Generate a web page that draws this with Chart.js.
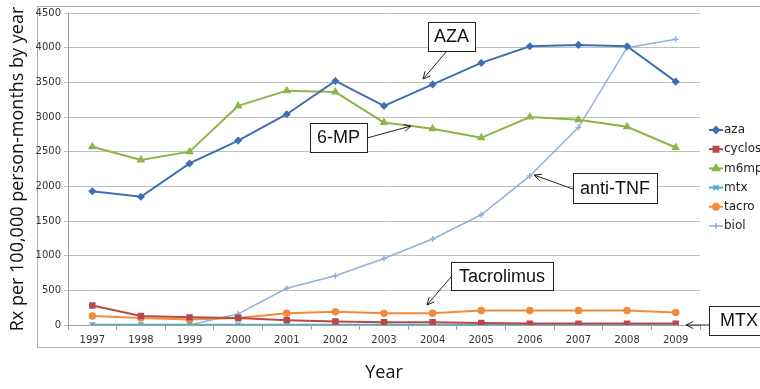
<!DOCTYPE html>
<html>
<head>
<meta charset="utf-8">
<script src="https://cdn.jsdelivr.net/npm/chart.js@4.4.1/dist/chart.umd.min.js"></script>
<style>
  html, body { margin: 0; padding: 0; background: #fff; }
  #wrap { width: 760px; height: 389px; }
</style>
</head>
<body>
<div id="wrap"><canvas id="chart" width="760" height="389"></canvas></div>
<script>
const years = ['1997', '1998', '1999', '2000', '2001', '2002', '2003', '2004', '2005', '2006', '2007', '2008', '2009'];

const aza = [1930, 1850, 2330, 2660, 3040, 3520, 3160, 3470, 3780, 4020, 4040, 4020, 3510];
const cyclosp = [280, 130, 110, 100, 70, 50, 40, 40, 30, 20, 20, 20, 20];
const m6mp = [2570, 2380, 2500, 3160, 3380, 3360, 2920, 2830, 2700, 3000, 2960, 2860, 2560];
const mtx = [5, 5, 5, 5, 5, 5, 5, 5, 5, 5, 5, 5, 5];
const tacro = [130, 100, 80, 100, 170, 190, 170, 170, 210, 210, 210, 210, 180];
const biol = [0, 0, 0, 160, 530, 710, 960, 1240, 1590, 2150, 2850, 4000, 4120];

const series = [
  { label: 'aza', data: aza, color: '#3f6fb3', marker: 'rectRot', radius: 3, width: 2 },
  { label: 'cyclosp', data: cyclosp, color: '#b8494a', marker: 'rect', radius: 3.5, width: 2 },
  { label: 'm6mp', data: m6mp, color: '#8db447', marker: 'triangle', radius: 3.5, width: 2 },
  { label: 'mtx', data: mtx, color: '#4ab0c8', marker: 'crossRot', radius: 3.5, width: 2 },
  { label: 'tacro', data: tacro, color: '#f08b3a', marker: 'circle', radius: 3, width: 2 },
  { label: 'biol', data: biol, color: '#92b0dc', marker: 'cross', radius: 3, width: 1.5 },
];

// text boxes with arrows, placed like the original figure
const notes = [
  { text: 'AZA', box: [428, 22, 47, 29], from: [447, 51], to: [423, 79] },
  { text: '6-MP', box: [310, 123, 57, 29], from: [367, 138], to: [411, 126] },
  { text: 'anti-TNF', box: [573, 173, 84, 30], from: [573, 189], to: [534, 175] },
  { text: 'Tacrolimus', box: [451, 262, 102, 28], from: [451, 277], to: [427, 305] },
  { text: 'MTX', box: [709, 306, 60, 29], from: [709, 325], to: [686, 325] },
];

const extras = {
  id: 'extras',
  beforeDraw(chart) {
    const ctx = chart.ctx;
    ctx.save();
    ctx.fillStyle = '#fff';
    ctx.fillRect(0, 0, chart.width, chart.height);
    ctx.strokeStyle = '#b0b0b0';
    ctx.lineWidth = 1;
    ctx.strokeRect(37.5, 6.5, 740, 341);
    ctx.restore();
  },
  afterDraw(chart) {
    const ctx = chart.ctx;
    ctx.save();
    // legend
    chart.data.datasets.forEach((ds, i) => {
      const y = 130 + i * 19.2;
      ctx.strokeStyle = ds.borderColor;
      ctx.fillStyle = ds.borderColor;
      ctx.lineWidth = ds.borderWidth;
      ctx.beginPath();
      ctx.moveTo(709, y);
      ctx.lineTo(723, y);
      ctx.stroke();
      Chart.helpers.drawPoint(ctx, {
        pointStyle: ds.pointStyle, radius: ds.pointRadius, borderWidth: 1.5
      }, 716, y);
      ctx.fillStyle = '#222';
      ctx.font = '12px "DejaVu Sans"';
      ctx.textBaseline = 'middle';
      ctx.textAlign = 'left';
      ctx.fillText(ds.label, 724, y);
    });
    // annotations
    ctx.font = '18px "Liberation Sans", Arial';
    notes.forEach(n => {
      const [x, y, w, h] = n.box;
      ctx.fillStyle = '#fff';
      ctx.fillRect(x, y, w, h);
      ctx.strokeStyle = '#222';
      ctx.lineWidth = 1;
      ctx.strokeRect(x + 0.5, y + 0.5, w, h);
      ctx.fillStyle = '#111';
      ctx.textAlign = 'center';
      ctx.textBaseline = 'middle';
      ctx.fillText(n.text, x + w / 2, y + h / 2 + 1);
      const [fx, fy] = n.from;
      const [tx, ty] = n.to;
      ctx.beginPath();
      ctx.moveTo(fx, fy);
      ctx.lineTo(tx, ty);
      ctx.stroke();
      const a = Math.atan2(ty - fy, tx - fx);
      ctx.beginPath();
      ctx.moveTo(tx - 8 * Math.cos(a - 0.45), ty - 8 * Math.sin(a - 0.45));
      ctx.lineTo(tx, ty);
      ctx.lineTo(tx - 8 * Math.cos(a + 0.45), ty - 8 * Math.sin(a + 0.45));
      ctx.stroke();
    });
    ctx.restore();
  }
};

new Chart(document.getElementById('chart'), {
  type: 'line',
  data: {
    labels: years,
    datasets: series.map(s => ({
      label: s.label,
      data: s.data,
      borderColor: s.color,
      backgroundColor: s.color,
      borderWidth: s.width,
      pointStyle: s.marker,
      pointRadius: s.radius,
      pointBorderWidth: 1.5,
      pointBorderColor: s.color,
      pointBackgroundColor: s.color,
      tension: 0,
      fill: false,
    })),
  },
  options: {
    responsive: false,
    animation: false,
    layout: { padding: { top: 13, right: 60, left: 0, bottom: 0 } },
    plugins: {
      legend: { display: false },
      tooltip: { enabled: false },
    },
    scales: {
      x: {
        offset: true,
        afterFit: s => { s.height = 64; },
        grid: { display: true, drawOnChartArea: false, offset: true, tickLength: 5, color: '#a0a0a0' },
        border: { color: '#a0a0a0' },
        ticks: { color: '#333', font: { family: 'DejaVu Sans', size: 10 }, padding: 4, maxRotation: 0 },
        title: { display: true, text: 'Year', color: '#111', font: { family: 'Open Sans', size: 18 }, padding: { top: 0, bottom: 5 } },
      },
      y: {
        min: 0,
        max: 4500,
        afterFit: s => { s.width = 68; },
        ticks: { stepSize: 500, color: '#333', font: { family: 'DejaVu Sans', size: 10 }, padding: 3, callback: v => String(v) },
        grid: { color: '#c0c0c0', tickLength: 4, lineWidth: 1 },
        border: { color: '#a0a0a0' },
        title: { display: true, text: 'Rx per 100,000 person-months by year', color: '#111', font: { family: 'Open Sans', size: 18 }, padding: { top: 7, bottom: 0 } },
      },
    },
  },
  plugins: [extras],
});
</script>
</body>
</html>
